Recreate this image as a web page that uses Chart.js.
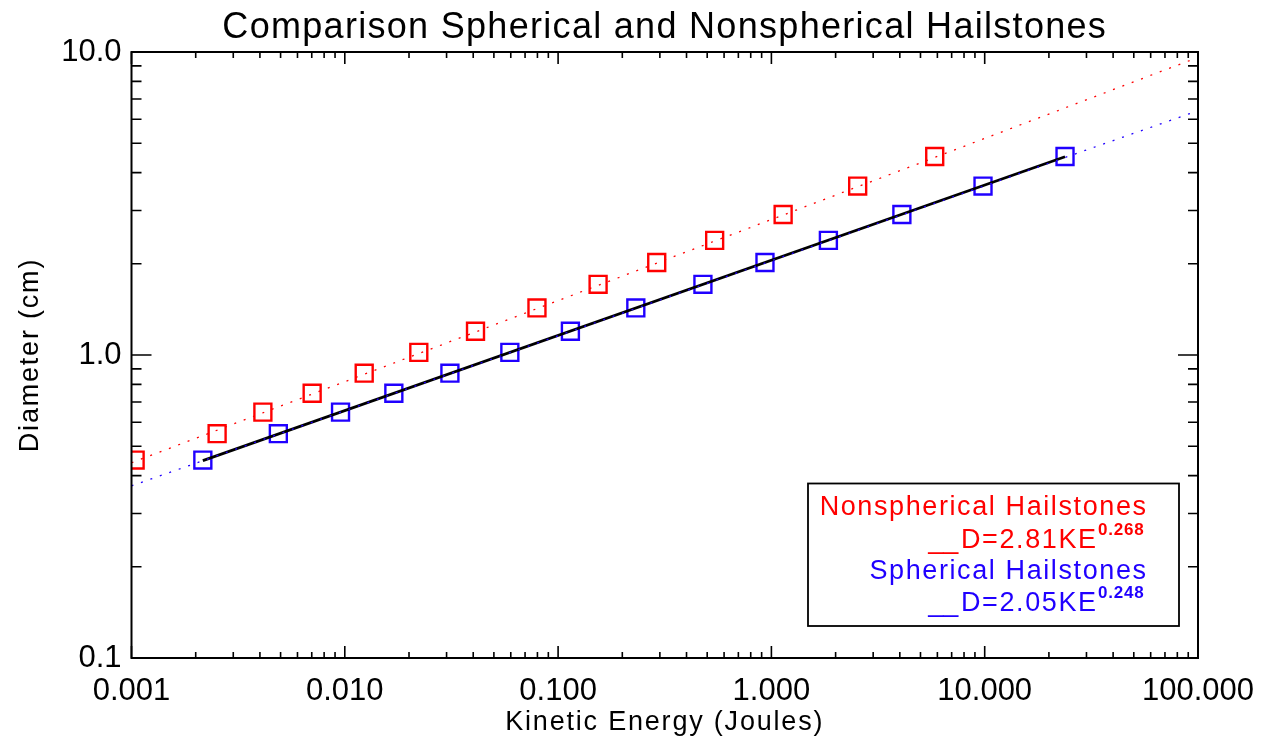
<!DOCTYPE html>
<html>
<head>
<meta charset="utf-8">
<script src="https://cdn.jsdelivr.net/npm/chart.js@4/dist/chart.umd.min.js"></script>
<style>
    html, body { margin: 0; padding: 0; background: #ffffff; }
    #chart { display: block; }
</style>
</head>
<body>
<canvas id="chart" width="1273" height="747"></canvas>
<script>
// Hailstone diameter (cm) vs kinetic energy (J)
const diameters = [0.45, 0.55, 0.648, 0.748, 0.871, 1.02, 1.198, 1.43, 1.711, 2.02, 2.39, 2.91, 3.61, 4.52];
const nonsphericalKE = [0.00104, 0.00252, 0.00413, 0.00703, 0.01233, 0.02223, 0.0410, 0.0796, 0.154, 0.290, 0.542, 1.135, 2.538, 5.83];
const sphericalKE = [0.00216, 0.00488, 0.00955, 0.01698, 0.0311, 0.0594, 0.1142, 0.2314, 0.4775, 0.933, 1.85, 4.09, 9.82, 23.8];

// Fit lines (end points)
const fitKE = [0.001, 100];
const nonsphericalFitD = [0.441, 9.6];
const sphericalFitD = [0.37, 6.4];
const sphericalRangeKE = [0.00216, 23.8];
const sphericalRangeD = [0.448, 4.51];

// Axis ticks
const xMajorTicks = [0.001, 0.01, 0.1, 1, 10, 100];
const yMajorTicks = [0.1, 1, 10];
const minorSteps = [2, 3, 4, 5, 6, 7, 8, 9];

const RED = '#ff0000';
const BLUE = '#2000ff';
const FONT = '"Liberation Sans", Arial, sans-serif';

function pairs(xs, ys) {
    return xs.map((x, i) => ({ x: x, y: ys[i] }));
}

// Draw text with letter spacing (IDL vector font is widely spaced)
function spacedText(ctx, text, x, y, font, color, spacing, align) {
    ctx.save();
    ctx.font = font;
    ctx.fillStyle = color;
    ctx.textBaseline = 'alphabetic';
    ctx.textAlign = align || 'left';
    if ('letterSpacing' in ctx) ctx.letterSpacing = spacing + 'px';
    ctx.fillText(text, align === 'right' ? x + spacing : x, y);
    ctx.restore();
}

// Legend formula: "__" sample line, then D=..KE with a superscript exponent
function formula(ctx, body, exponent, xRight, y, color) {
    spacedText(ctx, body, xRight, y, '27px ' + FONT, color, 1.6, 'right');
    ctx.save();
    ctx.font = '27px ' + FONT;
    if ('letterSpacing' in ctx) ctx.letterSpacing = '1.6px';
    const w = ctx.measureText(body).width;
    ctx.restore();
    spacedText(ctx, '__', xRight - w - 1, y, '27px ' + FONT, color, 0, 'right');
    spacedText(ctx, exponent, xRight + 2, y - 13, 'bold 17px ' + FONT, color, 0.8, 'left');
}

// Frame, inward ticks, title, axis titles and legend box
const framePlugin = {
    id: 'idlFrame',
    afterDatasetsDraw(chart) {
        const ctx = chart.ctx;
        const a = chart.chartArea;
        const xs = chart.scales.x;
        const ys = chart.scales.y;

        ctx.save();
        ctx.strokeStyle = '#000000';
        ctx.lineWidth = 2;
        ctx.strokeRect(a.left, a.top, a.right - a.left, a.bottom - a.top);

        ctx.lineWidth = 1.6;
        ctx.beginPath();
        // x ticks on bottom and top
        xMajorTicks.forEach((v, i) => {
            const px = xs.getPixelForValue(v);
            ctx.moveTo(px, a.bottom); ctx.lineTo(px, a.bottom - 12);
            ctx.moveTo(px, a.top); ctx.lineTo(px, a.top + 12);
            if (i < xMajorTicks.length - 1) {
                minorSteps.forEach(m => {
                    const mx = xs.getPixelForValue(v * m);
                    ctx.moveTo(mx, a.bottom); ctx.lineTo(mx, a.bottom - 6);
                    ctx.moveTo(mx, a.top); ctx.lineTo(mx, a.top + 6);
                });
            }
        });
        // y ticks on left and right
        yMajorTicks.forEach((v, i) => {
            const py = ys.getPixelForValue(v);
            ctx.moveTo(a.left, py); ctx.lineTo(a.left + 20, py);
            ctx.moveTo(a.right, py); ctx.lineTo(a.right - 20, py);
            if (i < yMajorTicks.length - 1) {
                minorSteps.forEach(m => {
                    const my = ys.getPixelForValue(v * m);
                    ctx.moveTo(a.left, my); ctx.lineTo(a.left + 10, my);
                    ctx.moveTo(a.right, my); ctx.lineTo(a.right - 10, my);
                });
            }
        });
        ctx.stroke();

        // legend box
        ctx.lineWidth = 1.8;
        ctx.strokeRect(808, 483.5, 371, 142.5);
        ctx.restore();

        // title
        spacedText(ctx, 'Comparison Spherical and Nonspherical Hailstones',
            (a.left + a.right) / 2, 38, '36px ' + FONT, '#000000', 1.3, 'center');

        // axis titles
        spacedText(ctx, 'Kinetic Energy (Joules)', (a.left + a.right) / 2, 730,
            '27px ' + FONT, '#000000', 1.8, 'center');
        ctx.save();
        ctx.translate(38, (a.top + a.bottom) / 2);
        ctx.rotate(-Math.PI / 2);
        spacedText(ctx, 'Diameter (cm)', 0, 0, '27px ' + FONT, '#000000', 1.8, 'center');
        ctx.restore();

        // legend text
        spacedText(ctx, 'Nonspherical Hailstones', 1146, 515, '27px ' + FONT, RED, 1.6, 'right');
        formula(ctx, 'D=2.81KE', '0.268', 1096, 548, RED);
        spacedText(ctx, 'Spherical Hailstones', 1146, 579, '27px ' + FONT, BLUE, 1.6, 'right');
        formula(ctx, 'D=2.05KE', '0.248', 1096, 611, BLUE);
    }
};

const ctx = document.getElementById('chart').getContext('2d');
const chart = new Chart(ctx, {
    type: 'scatter',
    data: {
        datasets: [
            {
                label: 'Nonspherical fit',
                data: pairs(fitKE, nonsphericalFitD),
                showLine: true,
                borderColor: RED,
                borderWidth: 1.3,
                borderDash: [2, 8],
                pointRadius: 0
            },
            {
                label: 'Spherical fit',
                data: pairs(fitKE, sphericalFitD),
                showLine: true,
                borderColor: BLUE,
                borderWidth: 1.3,
                borderDash: [2, 8],
                pointRadius: 0
            },
            {
                label: 'Spherical fit (data range)',
                data: pairs(sphericalRangeKE, sphericalRangeD),
                showLine: true,
                borderColor: '#000000',
                borderWidth: 2.8,
                pointRadius: 0
            },
            {
                label: 'Nonspherical Hailstones',
                data: pairs(nonsphericalKE, diameters),
                pointStyle: 'rect',
                pointRadius: 12,
                pointBorderWidth: 2.4,
                pointBorderColor: RED,
                pointBackgroundColor: 'rgba(0,0,0,0)',
                clip: 0
            },
            {
                label: 'Spherical Hailstones',
                data: pairs(sphericalKE, diameters),
                pointStyle: 'rect',
                pointRadius: 12,
                pointBorderWidth: 2.4,
                pointBorderColor: BLUE,
                pointBackgroundColor: 'rgba(0,0,0,0)',
                clip: 0
            }
        ]
    },
    options: {
        responsive: false,
        animation: false,
        devicePixelRatio: 1,
        layout: { padding: { top: 52, right: 75, left: 0, bottom: 0 } },
        plugins: {
            legend: { display: false },
            title: { display: false },
            tooltip: { enabled: false }
        },
        scales: {
            x: {
                type: 'logarithmic',
                min: 0.001,
                max: 100,
                grid: { display: false, drawTicks: false },
                border: { display: false },
                afterBuildTicks: (scale) => {
                    scale.ticks = xMajorTicks.map(v => ({ value: v }));
                },
                afterFit: (scale) => { scale.height = 89; },
                ticks: {
                    autoSkip: false,
                    maxRotation: 0,
                    padding: 15,
                    color: '#000000',
                    font: { family: FONT, size: 31 },
                    callback: (value) => Number(value).toFixed(3)
                }
            },
            y: {
                type: 'logarithmic',
                min: 0.1,
                max: 10,
                grid: { display: false, drawTicks: false },
                border: { display: false },
                afterBuildTicks: (scale) => {
                    scale.ticks = yMajorTicks.map(v => ({ value: v }));
                },
                afterFit: (scale) => { scale.width = 131.5; },
                ticks: {
                    autoSkip: false,
                    padding: 10,
                    color: '#000000',
                    font: { family: FONT, size: 31 },
                    callback: (value) => Number(value).toFixed(1)
                }
            }
        }
    },
    plugins: [framePlugin]
});
</script>
</body>
</html>
